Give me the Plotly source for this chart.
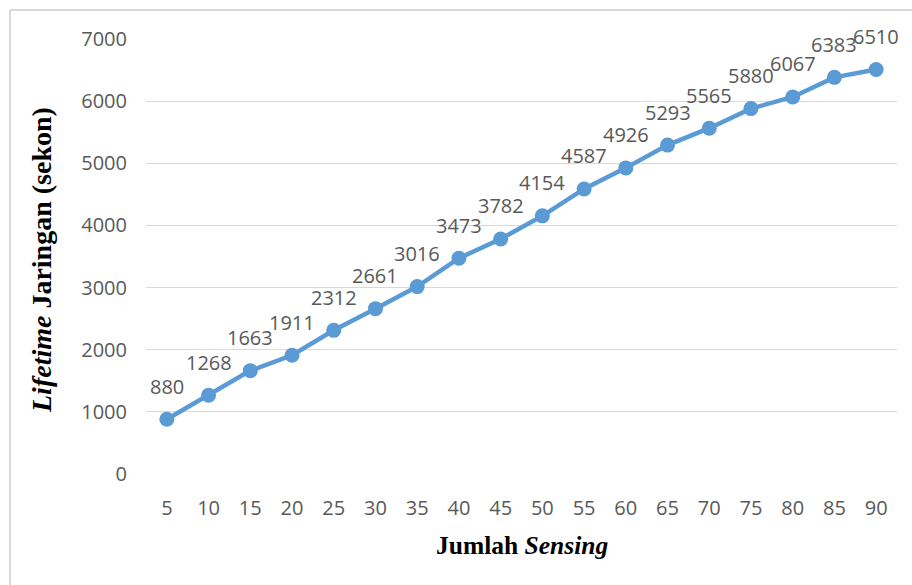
import plotly.graph_objects as go

# Data: network lifetime vs number of sensing nodes
jumlah_sensing = [5, 10, 15, 20, 25, 30, 35, 40, 45, 50, 55, 60, 65, 70, 75, 80, 85, 90]
lifetime = [880, 1268, 1663, 1911, 2312, 2661, 3016, 3473, 3782, 4154,
            4587, 4926, 5293, 5565, 5880, 6067, 6383, 6510]
y_ticks = [0, 1000, 2000, 3000, 4000, 5000, 6000, 7000]

W, H = 912, 585
L, R, T, B = 146, 15, 39, 111
plot_w = W - L - R
plot_h = H - T - B

BLUE = "#5B9BD5"
GRAY_TXT = "#595959"
GRID = "#D9D9D9"
TICK_FONT = dict(family="Open Sans, Liberation Sans, sans-serif", size=20, color=GRAY_TXT)

fig = go.Figure()
fig.add_trace(go.Scatter(
    x=jumlah_sensing, y=lifetime, mode="lines+markers",
    line=dict(color=BLUE, width=4.5),
    marker=dict(color=BLUE, size=15),
    hoverinfo="x+y", showlegend=False,
))

# value labels above each point
for xv, yv in zip(jumlah_sensing, lifetime):
    fig.add_annotation(x=xv, y=yv, text=str(yv), showarrow=False,
                       yshift=33, font=TICK_FONT, xanchor="center", yanchor="middle")

# axis titles
SERIF = "Liberation Serif, Times New Roman, serif"
fig.add_annotation(xref="paper", yref="paper",
                   x=(522 - L) / plot_w, y=(H - B - 545) / plot_h,
                   text="<b>Jumlah <i>Sensing</i></b>", showarrow=False,
                   font=dict(family=SERIF, size=25.5, color="#000000"),
                   xanchor="center", yanchor="middle")
fig.add_annotation(xref="paper", yref="paper",
                   x=(41 - L) / plot_w, y=(H - B - 260) / plot_h,
                   text="<b><i>Lifetime</i> Jaringan (sekon)</b>", showarrow=False,
                   textangle=-90, font=dict(family=SERIF, size=28, color="#000000"),
                   xanchor="center", yanchor="middle")

# chart frame (left and top edges visible)
frame_x = (10 - L) / plot_w
frame_y = (H - B - 10) / plot_h
fig.add_shape(type="line", xref="paper", yref="paper",
              x0=frame_x, x1=frame_x, y0=frame_y, y1=(H - B - H - 20) / plot_h,
              line=dict(color=GRID, width=2))
fig.add_shape(type="line", xref="paper", yref="paper",
              x0=frame_x, x1=(W + 20 - L) / plot_w, y0=frame_y, y1=frame_y,
              line=dict(color=GRID, width=2))

fig.update_xaxes(
    range=[2.5, 92.5], tickvals=jumlah_sensing, ticktext=[str(v) for v in jumlah_sensing],
    showgrid=False, zeroline=False, showline=False, ticks="",
    tickfont=TICK_FONT, ticklabelstandoff=20, fixedrange=True,
)
fig.update_yaxes(
    range=[0, 7000], tickvals=y_ticks, ticktext=[str(v) for v in y_ticks],
    showgrid=True, gridcolor=GRID, gridwidth=1, zeroline=False, showline=False, ticks="",
    tickfont=TICK_FONT, ticklabelstandoff=18, fixedrange=True,
)

fig.update_layout(
    width=W, height=H,
    margin=dict(l=L, r=R, t=T, b=B),
    paper_bgcolor="white", plot_bgcolor="white",
    showlegend=False,
)

fig.write_html("out.html")
